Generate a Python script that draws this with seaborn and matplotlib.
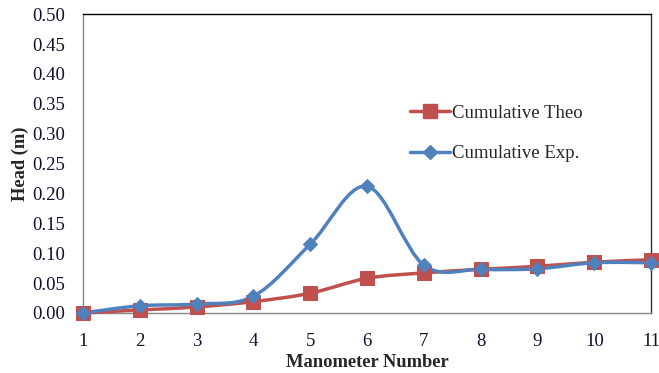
import numpy as np
import pandas as pd
import matplotlib
matplotlib.use('Agg')
import matplotlib.pyplot as plt
import seaborn as sns
from matplotlib.path import Path
from matplotlib.patches import PathPatch
from matplotlib.lines import Line2D

# Data
manometer = [1, 2, 3, 4, 5, 6, 7, 8, 9, 10, 11]
cum_theo = [0.000, 0.005, 0.010, 0.019, 0.033, 0.058, 0.067, 0.073, 0.078, 0.085, 0.089]
cum_exp = [0.000, 0.012, 0.015, 0.028, 0.115, 0.212, 0.080, 0.073, 0.074, 0.084, 0.084]
y_ticks = [0.00, 0.05, 0.10, 0.15, 0.20, 0.25, 0.30, 0.35, 0.40, 0.45, 0.50]

RED = '#C0504D'
BLUE = '#4F81BD'
GREY = '#868686'

sns.set_theme(style="white")
plt.rcParams['font.family'] = ['Liberation Serif', 'DejaVu Serif']


def smooth_path(xs, ys):
    # Excel-style smoothed line: Catmull-Rom segments as cubic Bezier
    pts = np.column_stack([xs, ys]).astype(float)
    ext = np.vstack([pts[0], pts, pts[-1]])
    verts = [pts[0]]
    codes = [Path.MOVETO]
    for i in range(1, len(ext) - 2):
        p0, p1, p2, p3 = ext[i - 1], ext[i], ext[i + 1], ext[i + 2]
        verts += [p1 + (p2 - p0) / 6, p2 - (p3 - p1) / 6, p2]
        codes += [Path.CURVE4] * 3
    return Path(verts, codes)


df = pd.DataFrame({'x': manometer, 'theo': cum_theo, 'exp': cum_exp})

fig = plt.figure(figsize=(6.59, 3.73), dpi=100)
ax = fig.add_axes([0.126, 0.161, 0.862, 0.801])

for col, color in [('theo', RED), ('exp', BLUE)]:
    ax.add_patch(PathPatch(smooth_path(df['x'], df[col]), facecolor='none',
                           edgecolor=color, lw=2.5, clip_on=False, zorder=3))

sns.lineplot(data=df, x='x', y='theo', ax=ax, linestyle='', marker='s',
             markersize=9.5, color=RED, markeredgecolor=RED, clip_on=False, zorder=4)
sns.lineplot(data=df, x='x', y='exp', ax=ax, linestyle='', marker='D',
             markersize=7.5, color=BLUE, markeredgecolor=BLUE, clip_on=False, zorder=5)

ax.set_xlim(1, 11)
ax.set_ylim(0, 0.5)
ax.set_xticks(manometer)
ax.set_yticks(y_ticks)
ax.set_yticklabels([f'{v:.2f}' for v in y_ticks])

ax.tick_params(axis='both', which='both', direction='out', length=4.5, width=1,
               color=GREY, labelsize=13.5, labelcolor='#101030')
ax.tick_params(axis='x', pad=10)
ax.tick_params(axis='y', pad=8.5)

ax.spines['left'].set_color(GREY)
ax.spines['bottom'].set_color(GREY)
ax.spines['top'].set_color('black')
ax.spines['right'].set_color('#333333')
for s in ax.spines.values():
    s.set_linewidth(1.0)

ax.set_xlabel('Manometer Number', fontsize=13.3, fontweight='bold', labelpad=3)
ax.set_ylabel('Head (m)', fontsize=13.3, fontweight='bold', labelpad=2)

handles = [
    Line2D([], [], color=RED, lw=2.5, marker='s', markersize=9.5),
    Line2D([], [], color=BLUE, lw=2.5, marker='D', markersize=7),
]
ax.legend(handles, ['Cumulative Theo', 'Cumulative Exp.'], frameon=False,
          loc='upper left', bbox_to_anchor=(0.576, 0.697), fontsize=13.5,
          handlelength=2.1, handletextpad=0.15, labelspacing=1.25,
          borderpad=0, borderaxespad=0)

fig.savefig('out.png', dpi=100)
